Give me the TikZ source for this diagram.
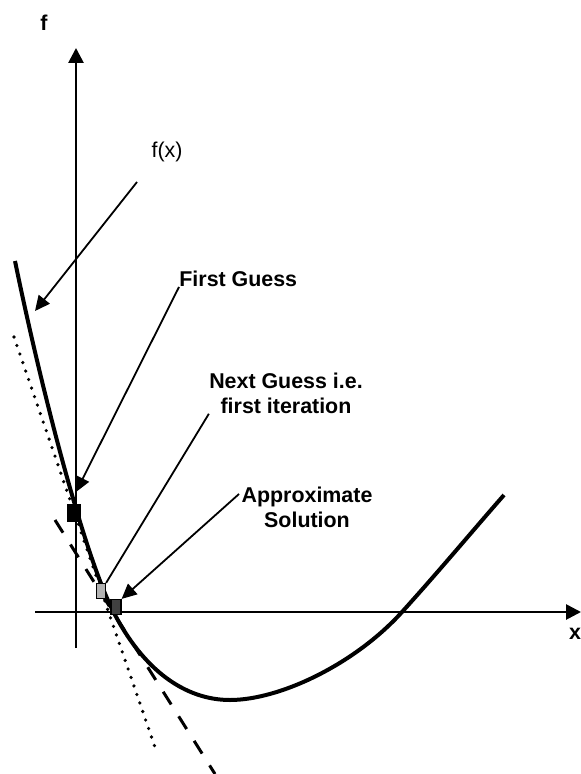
\documentclass[tikz,border=0pt]{standalone}
\usepackage{fontspec}
\setmainfont{Liberation Sans}
\usetikzlibrary{arrows.meta}
\begin{document}
\begin{tikzpicture}[x=0.5pt, y=-0.5pt,
    every node/.style={font=\fontsize{10.7}{12.5}\selectfont, inner sep=0pt},
    axis/.style={line width=1.35pt, -{Triangle[length=7.5pt, width=7.5pt]}},
    pointer/.style={line width=0.9pt, -{Triangle[length=7.5pt, width=7pt]}},
    guess/.style={draw=black, line width=0.6pt, rectangle, minimum width=5pt, minimum height=7.5pt}]
    \useasboundingbox (0,0) rectangle (581,774);

    % Axes
    \coordinate (ybottom) at (76,648);
    \coordinate (ytop) at (76,48);
    \coordinate (xleft) at (35,612);
    \coordinate (xright) at (581,612);
    \draw[axis] (ybottom) -- (ytop);
    \draw[axis] (xleft) -- (xright);
    \node[font=\fontsize{10.7}{12.5}\selectfont\bfseries] (flabel) at (44,23) {f};
    \node[font=\fontsize{10.7}{12.5}\selectfont\bfseries] (xlabel) at (575,634) {x};

    % Function and tangents
    \draw[line width=2pt] (15,261) .. controls (40,383) and (83,552) .. (113,611)
        .. controls (143,670) and (185,700) .. (230,700)
        .. controls (280,700) and (355,664) .. (402,612)
        .. controls (440,570) and (475,528) .. (504,495);
    \coordinate (dotA) at (14,337);
    \coordinate (dotB) at (157,753);
    \coordinate (dashA) at (55,520);
    \coordinate (dashB) at (215,774);
    \draw[line width=1.8pt, line cap=round, dash pattern=on 0pt off 4.5pt] (dotA) -- (dotB);
    \draw[line width=1.5pt, dash pattern=on 7.5pt off 7pt] (dashA) -- (dashB);

    % Guesses
    \node[guess, fill=black, minimum width=6pt, minimum height=8.5pt] (g0) at (74,513) {};
    \node[guess, fill=black!30, minimum width=4.5pt] (g1) at (101,591) {};
    \node[guess, fill=black!75] (g2) at (116,607) {};

    % Labels
    \node (fx) at (167,152) {f(x)};
    \node[font=\fontsize{10.7}{12.5}\selectfont\bfseries, anchor=south west] (first) at (179,287) {First Guess};
    \node[font=\fontsize{10.7}{12.5}\selectfont\bfseries, align=center] (next) at (286,393) {Next Guess i.e.\\first iteration};
    \node[font=\fontsize{10.7}{12.5}\selectfont\bfseries, align=center] (approx) at (307,507) {Approximate\\Solution};

    % Arrows
    \coordinate (fxfrom) at (137,182);
    \coordinate (fxtip) at (35,311);
    \coordinate (firsttip) at (76,492);
    \coordinate (approxfrom) at (239,494);
    \draw[pointer] (fxfrom) -- (fxtip);
    \draw[pointer] (first.south west) -- (firsttip);
    \draw[line width=0.9pt] (next.south west) -- (g1.north east);
    \draw[pointer] (approxfrom) -- (g2.north east);
\end{tikzpicture}
\end{document}
